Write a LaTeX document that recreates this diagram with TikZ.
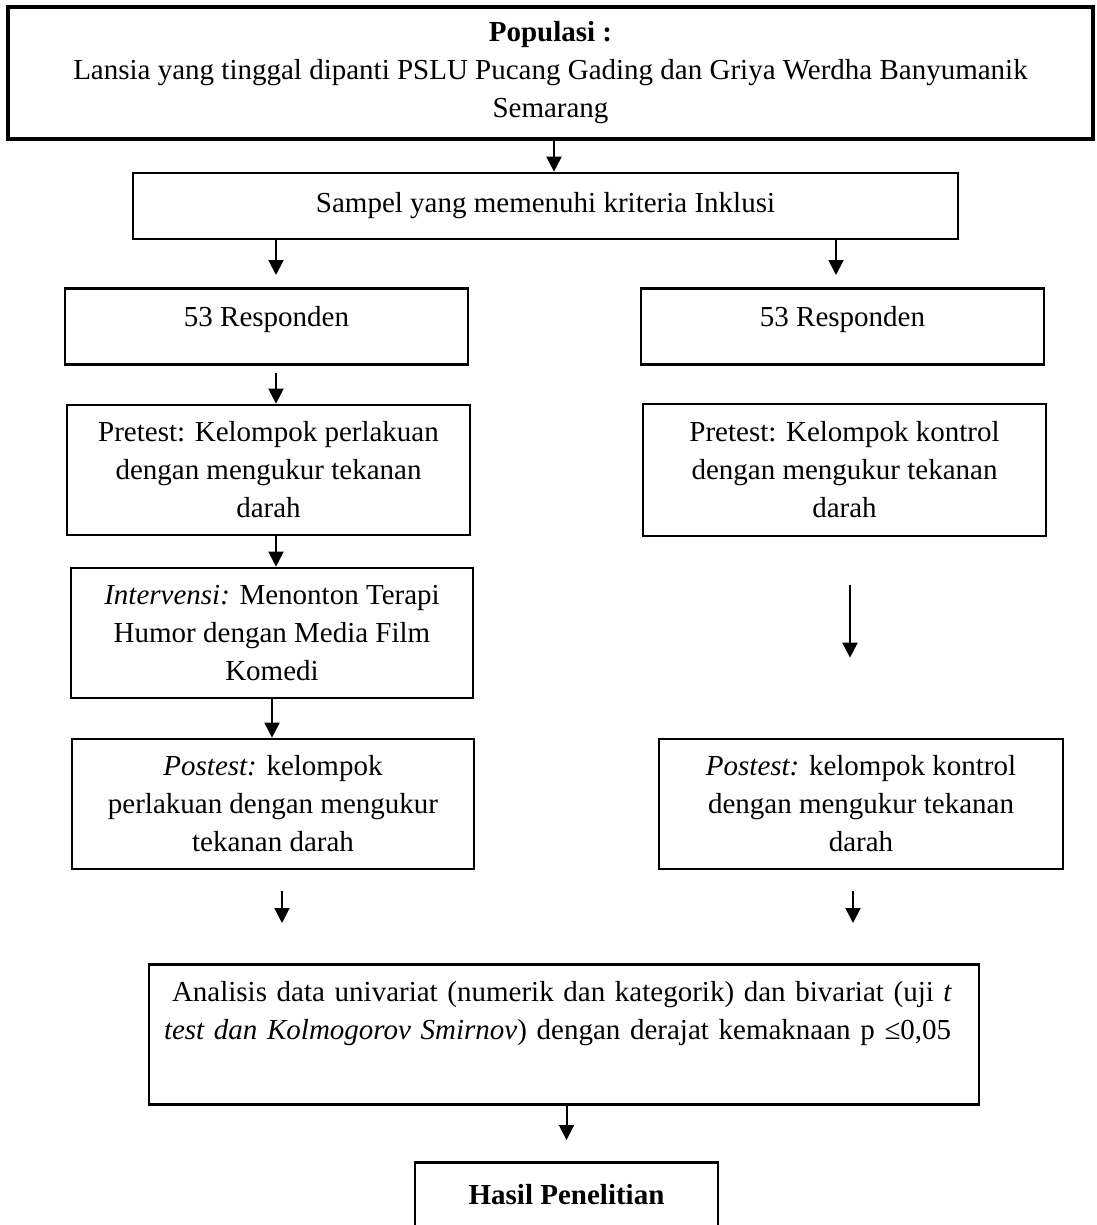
\documentclass[tikz,border=0pt]{standalone}
\usepackage{fontspec}
\setmainfont{Liberation Serif}
\usetikzlibrary{arrows.meta,calc,positioning}
\tikzset{
  box/.style={rectangle,draw=black,line width=2.7pt,inner sep=0pt,align=center,
    font=\fontsize{29}{38}\selectfont},
  arr/.style={-{Triangle[width=15pt,length=15pt]},line width=2pt},
}

\begin{document}
\begin{tikzpicture}[x=1pt,y=-1pt]
\useasboundingbox (0,0) rectangle (1096,1225);
% boxes
\node (pop) [box,line width=3.5pt,minimum width=1085pt,minimum height=132pt] at (550.5,73)
  {\textbf{Populasi :}\\Lansia yang tinggal dipanti PSLU Pucang Gading dan Griya Werdha Banyumanik\\Semarang};
\node (smp) [box,minimum width=825pt,minimum height=66pt] at (545.5,206) {Sampel yang memenuhi kriteria Inklusi};
\node (respL) [box,anchor=north,minimum width=403pt,text height=38pt,text depth=38pt] at (266.5,287) {53 Responden};
\node (respR) [box,anchor=north,minimum width=403pt,text height=38pt,text depth=38pt] at (842.5,287) {53 Responden};
\node (preL) [box,minimum width=403pt,minimum height=130pt] at (268.5,470)
  {Pretest: Kelompok perlakuan\\dengan mengukur tekanan\\darah};
\node (preR) [box,minimum width=403pt,minimum height=132pt] at (844.5,470)
  {Pretest: Kelompok kontrol\\dengan mengukur tekanan\\darah};
\node (intv) [box,minimum width=402pt,minimum height=130pt] at (272,633)
  {\textit{Intervensi:} Menonton Terapi\\Humor dengan Media Film\\Komedi};
\node (postL) [box,minimum width=402pt,minimum height=130pt] at (273,804)
  {\textit{Postest:} kelompok\\perlakuan dengan mengukur\\tekanan darah};
\node (postR) [box,minimum width=404pt,minimum height=130pt] at (861,804)
  {\textit{Postest:} kelompok kontrol\\dengan mengukur tekanan\\darah};
\node (ana) [box,anchor=north,align=left,text width=800pt,inner xsep=15pt,text height=37pt,text depth=103pt] at (564,963)
  {\hspace*{8pt}Analisis data univariat (numerik dan kategorik) dan bivariat (uji \textit{t}\\\textit{test dan Kolmogorov Smirnov}) dengan derajat kemaknaan p ≤0,05};
\node (hsl) [box,anchor=north,minimum width=303pt,text height=42pt,text depth=70pt,
  font=\fontsize{29}{38}\selectfont\bfseries] at (566.5,1161) {Hasil Penelitian};
% arrows
\draw[arr] ($(pop.south)+(3.5,0)$) -- ($(pop.south |- smp.north)+(3.5,0)$);
\draw[arr,shorten >=12pt] ($(smp.south -| respL.north)+(9.5,0)$) -- ($(respL.north)+(9.5,0)$);
\draw[arr,shorten >=12pt] ($(smp.south -| respR.north)+(-6.5,0)$) -- ($(respR.north)+(-6.5,0)$);
\draw[arr,shorten <=7pt] ($(respL.south)+(9.5,0)$) -- ($(respL.south |- preL.north)+(9.5,0)$);
\draw[arr] ($(preL.south)+(7.5,0)$) -- ($(preL.south |- intv.north)+(7.5,0)$);
\draw[arr] (intv.south) -- (intv.south |- postL.north);
\draw[arr,shorten <=48pt,shorten >=80pt] ($(preR.south)+(5.5,0)$) -- ($(preR.south |- postR.north)+(5.5,0)$);
\draw[arr,shorten <=21pt,shorten >=40pt] ($(postL.south)+(9,0)$) -- ($(postL.south |- ana.north)+(9,0)$);
\draw[arr,shorten <=21pt,shorten >=40pt] ($(postR.south)+(-8,0)$) -- ($(postR.south |- ana.north)+(-8,0)$);
\draw[arr,shorten >=21pt] (ana.south -| hsl.north) -- (hsl.north);
\end{tikzpicture}
\end{document}
